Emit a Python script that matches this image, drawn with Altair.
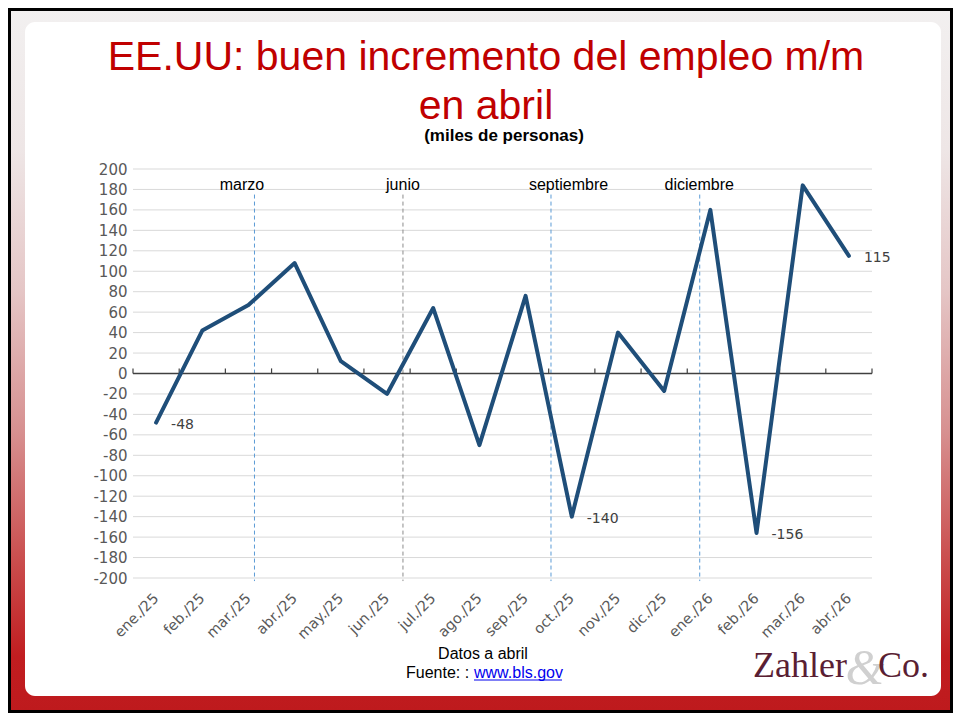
import altair as alt
import pandas as pd

# ---------------- data ----------------
months = ["ene./25", "feb./25", "mar./25", "abr./25", "may./25", "jun./25",
          "jul./25", "ago./25", "sep./25", "oct./25", "nov./25", "dic./25",
          "ene./26", "feb./26", "mar./26", "abr./26"]
values = [-48, 42, 67, 108, 12, -20, 64, -70, 76, -140, 40, -17, 160, -156, 184, 115]
labeled_months = ["ene./25", "oct./25", "feb./26", "abr./26"]

markers = ["marzo", "junio", "septiembre", "diciembre"]
marker_pos = [2.13, 5.345, 8.55, 11.77]          # position on the month index axis
marker_label_pos = [1.86, 5.345, 8.93, 11.76]
marker_colors = ["#5b9bd5", "#8c8c8c", "#5b9bd5", "#5b9bd5"]

y_ticks = list(range(-200, 201, 20))

W, H = 739, 409

df = pd.DataFrame({"idx": list(range(len(months))), "month": months, "value": values})
df_lab = df[df["month"].isin(labeled_months)].copy()
df_lab["txt"] = df_lab["value"].astype(str)

df_mark = pd.DataFrame({"idx": marker_pos, "value": [175] * 4, "value2": [-203] * 4,
                        "name": markers, "col": marker_colors})
df_mark_lab = pd.DataFrame({"idx": marker_label_pos, "name": markers})
df_grid = pd.DataFrame({"value": y_ticks})
df_ticks = pd.DataFrame({"idx": [k - 0.5 for k in range(len(months) + 1)],
                         "value": [0] * (len(months) + 1), "value2": [5] * (len(months) + 1)})

label_expr = "[" + ",".join("'" + m + "'" for m in months) + "][datum.value]"

xscale = alt.Scale(domain=[-0.5, len(months) - 0.5], nice=False, zero=False)
yscale = alt.Scale(domain=[-200, 200], nice=False, zero=False)

x_axis = alt.Axis(values=list(range(len(months))), labelExpr=label_expr, labelAngle=-45,
                  labelAlign="right", labelBaseline="middle", labelPadding=18,
                  labelFont="DejaVu Sans", labelFontSize=14.5, labelColor="#595959",
                  labelOverlap=False, domain=False, ticks=False, grid=False, title=None, zindex=1)
y_axis = alt.Axis(values=y_ticks, labelExpr="'' + datum.value",
                  labelFont="DejaVu Sans", labelFontSize=15, labelColor="#595959",
                  labelPadding=6, domain=False, ticks=False, grid=False, title=None, zindex=1)

X = alt.X("idx:Q", scale=xscale, axis=x_axis)
Y = alt.Y("value:Q", scale=yscale, axis=y_axis)

one = alt.Data(values=[{}])

gradient = {
    "gradient": "linear", "x1": 0, "y1": 0, "x2": 0, "y2": 1,
    "stops": [
        {"offset": 0.0, "color": "#f2f0f0"},
        {"offset": 0.2, "color": "#eee6e6"},
        {"offset": 0.4, "color": "#e5c6c6"},
        {"offset": 0.6, "color": "#d79090"},
        {"offset": 0.8, "color": "#c94848"},
        {"offset": 0.92, "color": "#c11d20"},
        {"offset": 1.0, "color": "#be1a1d"},
    ],
}

bg = alt.Chart(one).mark_rect(fill=gradient).encode(
    x=alt.value(-125), x2=alt.value(820), y=alt.value(-161), y2=alt.value(544))
frame = alt.Chart(one).mark_rect(fill="transparent", stroke="black", strokeWidth=3).encode(
    x=alt.value(-123.5), x2=alt.value(818.5), y=alt.value(-159.5), y2=alt.value(542.5))
panel = alt.Chart(one).mark_rect(fill="white", cornerRadius=10).encode(
    x=alt.value(-108), x2=alt.value(808), y=alt.value(-147), y2=alt.value(527))

grid = alt.Chart(df_grid).mark_rule(color="#d9d9d9", strokeWidth=1).encode(
    y=Y, x=alt.value(0), x2=alt.value(W))

vrules = alt.Chart(df_mark).mark_rule(strokeWidth=1, strokeDash=[4, 3]).encode(
    x=X, y=Y, y2="value2:Q", color=alt.Color("col:N", scale=None))

vlabels = alt.Chart(df_mark_lab).mark_text(font="Liberation Sans", fontSize=16, color="black",
                                           align="center", baseline="alphabetic").encode(
    x=X, y=alt.value(21), text="name:N")

zero = alt.Chart(one).mark_rule(color="#404040", strokeWidth=1.5).encode(
    y=alt.datum(0, type="quantitative", scale=yscale, axis=y_axis), x=alt.value(0), x2=alt.value(W))
ticks = alt.Chart(df_ticks).mark_rule(color="#404040", strokeWidth=1.2).encode(
    x=X, y=Y, y2="value2:Q")

line = alt.Chart(df).mark_line(color="#1f4e79", strokeWidth=4, strokeJoin="round",
                                strokeCap="round").encode(x=X, y=Y)

dlabels = alt.Chart(df_lab).mark_text(font="DejaVu Sans", fontSize=14, color="#404040",
                                      align="left", baseline="middle", dx=15, dy=2).encode(
    x=X, y=Y, text="txt:N")

# titles and footer (page coords minus plot origin 133,169)
t1 = alt.Chart(one).mark_text(text="EE.UU: buen incremento del empleo m/m", font="Liberation Sans",
                              fontSize=41, color="#c00000", align="center", baseline="alphabetic").encode(
    x=alt.value(353), y=alt.value(-99))
t2 = alt.Chart(one).mark_text(text="en abril", font="Liberation Sans",
                              fontSize=41, color="#c00000", align="center", baseline="alphabetic").encode(
    x=alt.value(353), y=alt.value(-50))
sub = alt.Chart(one).mark_text(text="(miles de personas)", font="Liberation Sans", fontWeight="bold",
                               fontSize=17, color="black", align="center", baseline="alphabetic").encode(
    x=alt.value(371), y=alt.value(-28))

foot1 = alt.Chart(one).mark_text(text="Datos a abril", font="Liberation Sans", fontSize=16,
                                 color="black", align="center", baseline="alphabetic").encode(
    x=alt.value(350), y=alt.value(490))
foot2 = alt.Chart(one).mark_text(text="Fuente: : ", font="Liberation Sans", fontSize=16,
                                 color="black", align="left", baseline="alphabetic").encode(
    x=alt.value(273), y=alt.value(509))
foot3 = alt.Chart(one).mark_text(text="www.bls.gov", font="Liberation Sans", fontSize=16,
                                 color="#0000ee", align="left", baseline="alphabetic").encode(
    x=alt.value(341), y=alt.value(509))
underline = alt.Chart(one).mark_rule(color="#0000ee", strokeWidth=1).encode(
    x=alt.value(341), x2=alt.value(429), y=alt.value(511))

amp = alt.Chart(one).mark_text(text="&", font="Liberation Serif", fontStyle="italic", fontSize=50,
                               color="#d0d0d0", align="center", baseline="alphabetic").encode(
    x=alt.value(732), y=alt.value(515))
logo1 = alt.Chart(one).mark_text(text="Zahler", font="Liberation Serif", fontSize=36,
                                 color="#5a1e33", align="left", baseline="alphabetic").encode(
    x=alt.value(620), y=alt.value(508))
logo2 = alt.Chart(one).mark_text(text="Co.", font="Liberation Serif", fontSize=36,
                                 color="#5a1e33", align="left", baseline="alphabetic").encode(
    x=alt.value(745), y=alt.value(508))

chart = alt.layer(
    bg, frame, panel, grid, vrules, vlabels, zero, ticks, line, dlabels,
    t1, t2, sub, foot1, foot2, foot3, underline, amp, logo1, logo2,
).properties(
    width=W, height=H,
    padding={"left": 125, "top": 161, "right": 81, "bottom": 135},
    autosize=alt.AutoSizeParams(type="none"),
).configure_view(stroke=None)

chart.save("out.html", embed_options={"renderer": "svg", "actions": False})
